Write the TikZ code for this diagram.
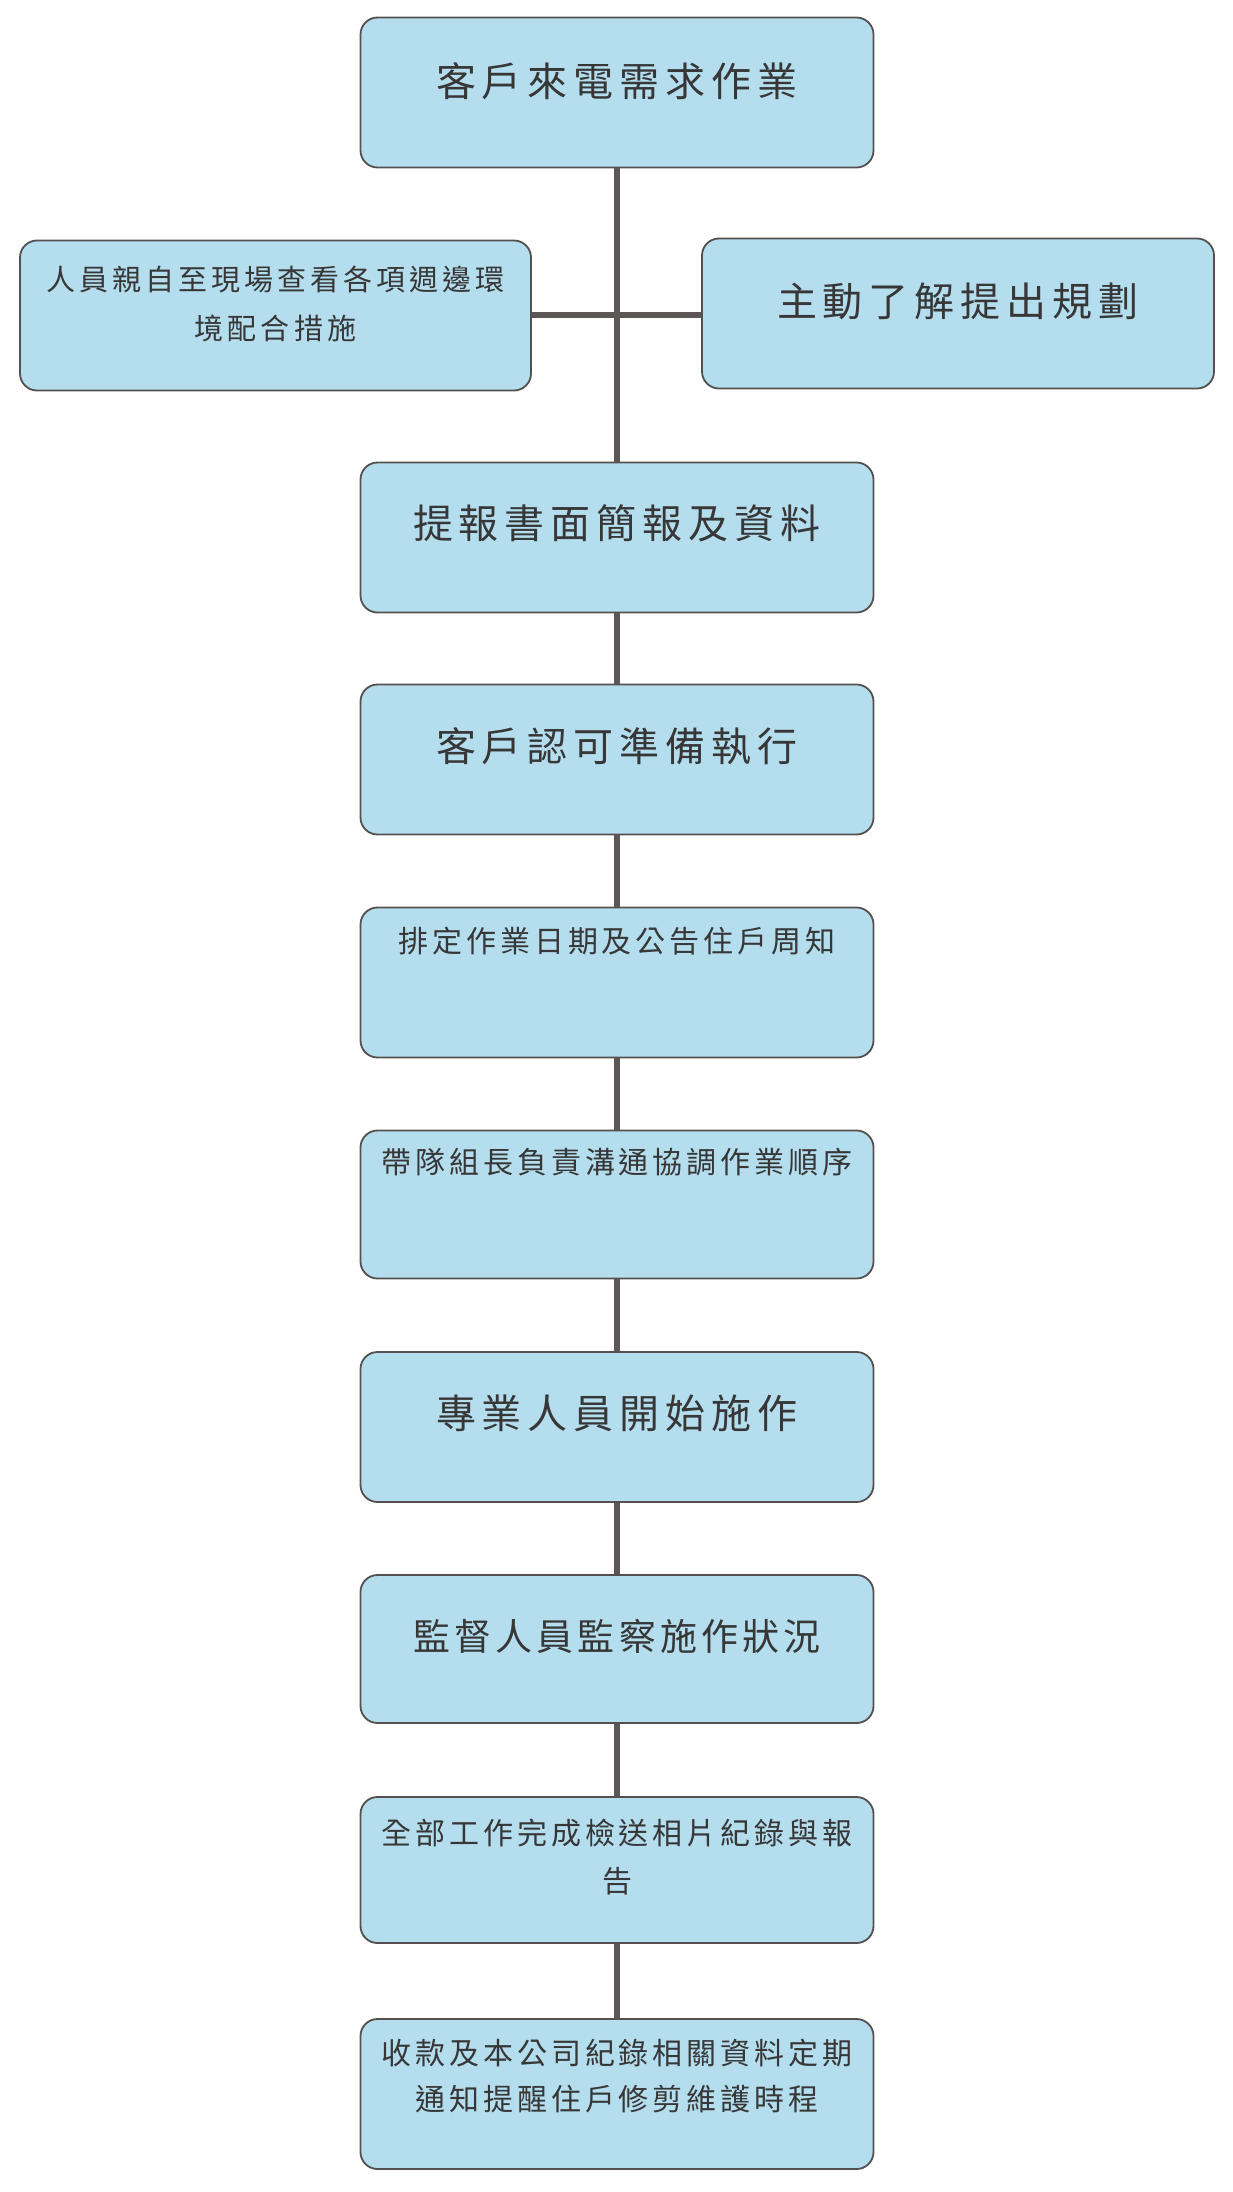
\documentclass[tikz,border=0pt]{standalone}
\usepackage{fontspec}
\newfontfamily\cjk{Noto Sans CJK TC}
\definecolor{boxc}{RGB}{180,221,238}
\definecolor{edgec}{RGB}{85,80,80}
\definecolor{linec}{RGB}{92,86,86}
\definecolor{textc}{RGB}{55,55,55}
\tikzset{
  box/.style={draw=edgec, line width=1.8pt, fill=boxc, rounded corners=17pt,
    minimum width=513pt, minimum height=150pt, inner sep=0pt, align=center,
    text=textc, text width=505pt},
  big/.style={font={\cjk\fontsize{40}{44}\selectfont\addfontfeature{LetterSpace=15}}},
  mid/.style={font={\cjk\fontsize{37}{44}\selectfont\addfontfeature{LetterSpace=11}}},
  small/.style={font={\cjk\fontsize{30}{48}\selectfont\addfontfeature{LetterSpace=13}}},
  smaller/.style={font={\cjk\fontsize{29}{49}\selectfont\addfontfeature{LetterSpace=14}}},
  conn/.style={draw=linec, line width=6pt},
}
\begin{document}
\begin{tikzpicture}[x=1pt,y=-1pt]
\fill[white] (0,0) rectangle (1232,2192);
\useasboundingbox (0,0) rectangle (1232,2192);

\node[box,big,text height=79pt,text depth=71pt] (b1) at (617,92.5) {客戶來電需求作業};
\node[box,smaller,minimum width=511pt,text height=50pt,text depth=100pt] (lf) at (275.5,315.5) {人員親自至現場查看各項週邊環\\境配合措施};
\node[box,big,minimum width=512pt,text height=78pt,text depth=72pt] (rt) at (958,313.5) {主動了解提出規劃};
\node[box,big,text height=76pt,text depth=74pt] (b3) at (617,537.5) {提報書面簡報及資料};
\node[box,big,text height=77pt,text depth=73pt] (b4) at (617,759.5) {客戶認可準備執行};
\node[box,small,text height=45pt,text depth=105pt] (b5) at (617,982.5) {排定作業日期及公告住戶周知};
\node[box,small,minimum height=148pt,text height=43pt,text depth=105pt] (b6) at (617,1204.5) {帶隊組長負責溝通協調作業順序};
\node[box,big,text height=76pt,text depth=74pt] (b7) at (617,1427) {專業人員開始施作};
\node[box,mid,minimum height=148pt,text height=75pt,text depth=73pt] (b8) at (617,1649) {監督人員監察施作狀況};
\node[box,small,minimum height=146pt,text height=47pt,text depth=99pt] (b9) at (617,1870) {全部工作完成檢送相片紀錄與報\\告};
\node[box,small,text height=45pt,text depth=105pt] (b10) at (617,2094) {收款及本公司紀錄相關資料定期\\[-2pt]通知提醒住戶修剪維護時程};

\coordinate (j) at (617,314.5);
\draw[conn] (b1.south) -- (b3.north);
\draw[conn] (lf.east |- j) -- (rt.west |- j);
\draw[conn] (b3.south) -- (b4.north);
\draw[conn] (b4.south) -- (b5.north);
\draw[conn] (b5.south) -- (b6.north);
\draw[conn] (b6.south) -- (b7.north);
\draw[conn] (b7.south) -- (b8.north);
\draw[conn] (b8.south) -- (b9.north);
\draw[conn] (b9.south) -- (b10.north);
\end{tikzpicture}
\end{document}
